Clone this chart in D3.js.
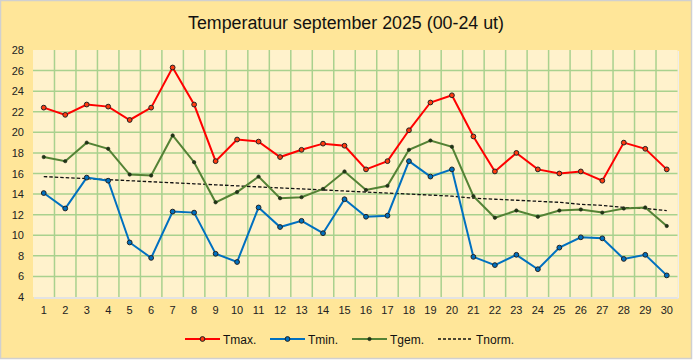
<!DOCTYPE html>
<html><head><meta charset="utf-8">
<script src="https://cdn.jsdelivr.net/npm/d3@7"></script>
<style>html,body{margin:0;padding:0;background:#fff;}svg{display:block;}</style>
</head><body>
<script>
const title = "Temperatuur september 2025 (00-24 ut)";
const days = d3.range(1, 31);
const tmax = [22.4,21.7,22.7,22.5,21.2,22.4,26.3,22.7,17.2,19.3,19.1,17.6,18.3,18.9,18.7,16.4,17.2,20.2,22.9,23.6,19.6,16.2,18.0,16.4,16.0,16.2,15.3,19.0,18.4,16.4];
const tmin = [14.1,12.6,15.6,15.3,9.3,7.8,12.3,12.2,8.2,7.4,12.7,10.8,11.4,10.2,13.5,11.8,11.9,17.2,15.7,16.4,7.9,7.1,8.1,6.7,8.8,9.8,9.7,7.7,8.1,6.1];
const tgem = [17.6,17.2,19.0,18.4,15.9,15.8,19.7,17.1,13.2,14.2,15.7,13.6,13.7,14.5,16.2,14.4,14.8,18.3,19.2,18.6,13.8,11.7,12.4,11.8,12.4,12.5,12.2,12.6,12.7,10.9];
const tnorm = [15.7,15.6,15.5,15.4,15.3,15.2,15.1,15.0,14.9,14.8,14.7,14.6,14.5,14.4,14.3,14.2,14.1,14.0,13.9,13.8,13.6,13.5,13.4,13.3,13.2,13.0,12.9,12.7,12.6,12.4];
const yTicks = [4,6,8,10,12,14,16,18,20,22,24,26,28];
const seriesNames = ["Tmax.","Tmin.","Tgem.","Tnorm."];

const W = 693, H = 360;
const svg = d3.select("body").append("svg").attr("width", W).attr("height", H)
  .style("font-family", "'Liberation Sans', Arial, sans-serif");

svg.append("rect").attr("x",0.5).attr("y",0.5).attr("width",W-2).attr("height",H-2)
  .attr("fill","#FFE699").attr("stroke","#D0D0D0").attr("stroke-width",1.5);

svg.append("text").attr("x", 346).attr("y", 29).attr("text-anchor","middle")
  .attr("font-size", 18).attr("fill","#111").attr("textLength", 316).attr("lengthAdjust","spacingAndGlyphs").text(title);

const pLeft = 33, pRight = 677.5, pTop = 50, pBottom = 297;
const x = d3.scaleBand().domain(days).range([pLeft, pRight]);
const y = d3.scaleLinear().domain([4, 28]).range([pBottom, pTop]);
const cx = d => x(d) + x.bandwidth()/2;

svg.append("rect").attr("x", pLeft+1).attr("y", pBottom).attr("width", pRight-pLeft).attr("height", 2).attr("fill","#E3E3E3");
svg.append("rect").attr("x", pRight).attr("y", pTop+1).attr("width", 1.5).attr("height", pBottom-pTop).attr("fill","#EDEDED");
svg.append("rect").attr("x", pLeft).attr("y", pTop).attr("width", pRight-pLeft).attr("height", pBottom-pTop).attr("fill","#FFF2CC");

const g = svg.append("g");
g.selectAll("line.h").data(yTicks.slice(1, -1)).enter().append("line")
  .attr("x1", pLeft).attr("x2", pRight).attr("y1", d=>y(d)).attr("y2", d=>y(d))
  .attr("stroke","#A9D18E").attr("stroke-width",1.5);
g.selectAll("line.v").data(days.slice(1)).enter().append("line")
  .attr("x1", d=>x(d)).attr("x2", d=>x(d)).attr("y1", pTop).attr("y2", pBottom)
  .attr("stroke","#A9D18E").attr("stroke-width",1.5);

const yAxis = d3.axisLeft(y).tickValues(yTicks).tickSize(0).tickPadding(0);
const ya = svg.append("g").attr("transform", `translate(${24},0)`).call(yAxis);
ya.select(".domain").remove();
ya.selectAll("text").attr("font-size", 11).attr("fill","#222").attr("font-family","'Liberation Sans', Arial, sans-serif");

const xAxis = d3.axisBottom(x).tickSize(0).tickPadding(0);
const xa = svg.append("g").attr("transform", `translate(0,${306})`).call(xAxis);
xa.select(".domain").remove();
xa.selectAll("text").attr("font-size", 11).attr("fill","#222").attr("font-family","'Liberation Sans', Arial, sans-serif");

const line = d3.line().x((d,i)=>cx(days[i])).y(d=>y(d));

svg.append("path").datum(tnorm).attr("d", line).attr("fill","none").attr("stroke","#111")
  .attr("stroke-width",1.3).attr("stroke-dasharray","3.5,2");

const specs = [
  {data: tgem, color:"#548235", mfill:"#1E3A10", r:1.7},
  {data: tmin, color:"#0070C0", mfill:"#0070C0", r:2.4},
  {data: tmax, color:"#FF0000", mfill:"#FF3A10", r:2.4},
];
specs.forEach(s => {
  svg.append("path").datum(s.data).attr("d", line).attr("fill","none").attr("stroke", s.color).attr("stroke-width",2);
  svg.append("g").selectAll("circle").data(s.data).enter().append("circle")
    .attr("cx",(d,i)=>cx(days[i])).attr("cy", d=>y(d)).attr("r", s.r)
    .attr("fill", s.mfill).attr("stroke","#222").attr("stroke-width", s.r>2?1:0.6);
});

const lg = svg.append("g").attr("font-size", 12).attr("fill","#111");
const leg = [
  {x:185, name:seriesNames[0], color:"#FF0000", mfill:"#FF3A10", r:2.4},
  {x:270, name:seriesNames[1], color:"#0070C0", mfill:"#0070C0", r:2.4},
  {x:352, name:seriesNames[2], color:"#548235", mfill:"#1E3A10", r:1.7},
  {x:438, name:seriesNames[3], color:"#111", dash:true},
];
const ly = 339;
leg.forEach(l => {
  lg.append("line").attr("x1", l.x).attr("x2", l.x+35).attr("y1", ly).attr("y2", ly)
    .attr("stroke", l.color).attr("stroke-width", l.dash?1.3:2).attr("stroke-dasharray", l.dash?"3,2":null);
  if (!l.dash) lg.append("circle").attr("cx", l.x+17.5).attr("cy", ly).attr("r", l.r)
    .attr("fill", l.mfill).attr("stroke","#222").attr("stroke-width", l.r>2?1:0.6);
  lg.append("text").attr("x", l.x+38).attr("y", ly+4.5).text(l.name);
});
</script>
</body></html>
